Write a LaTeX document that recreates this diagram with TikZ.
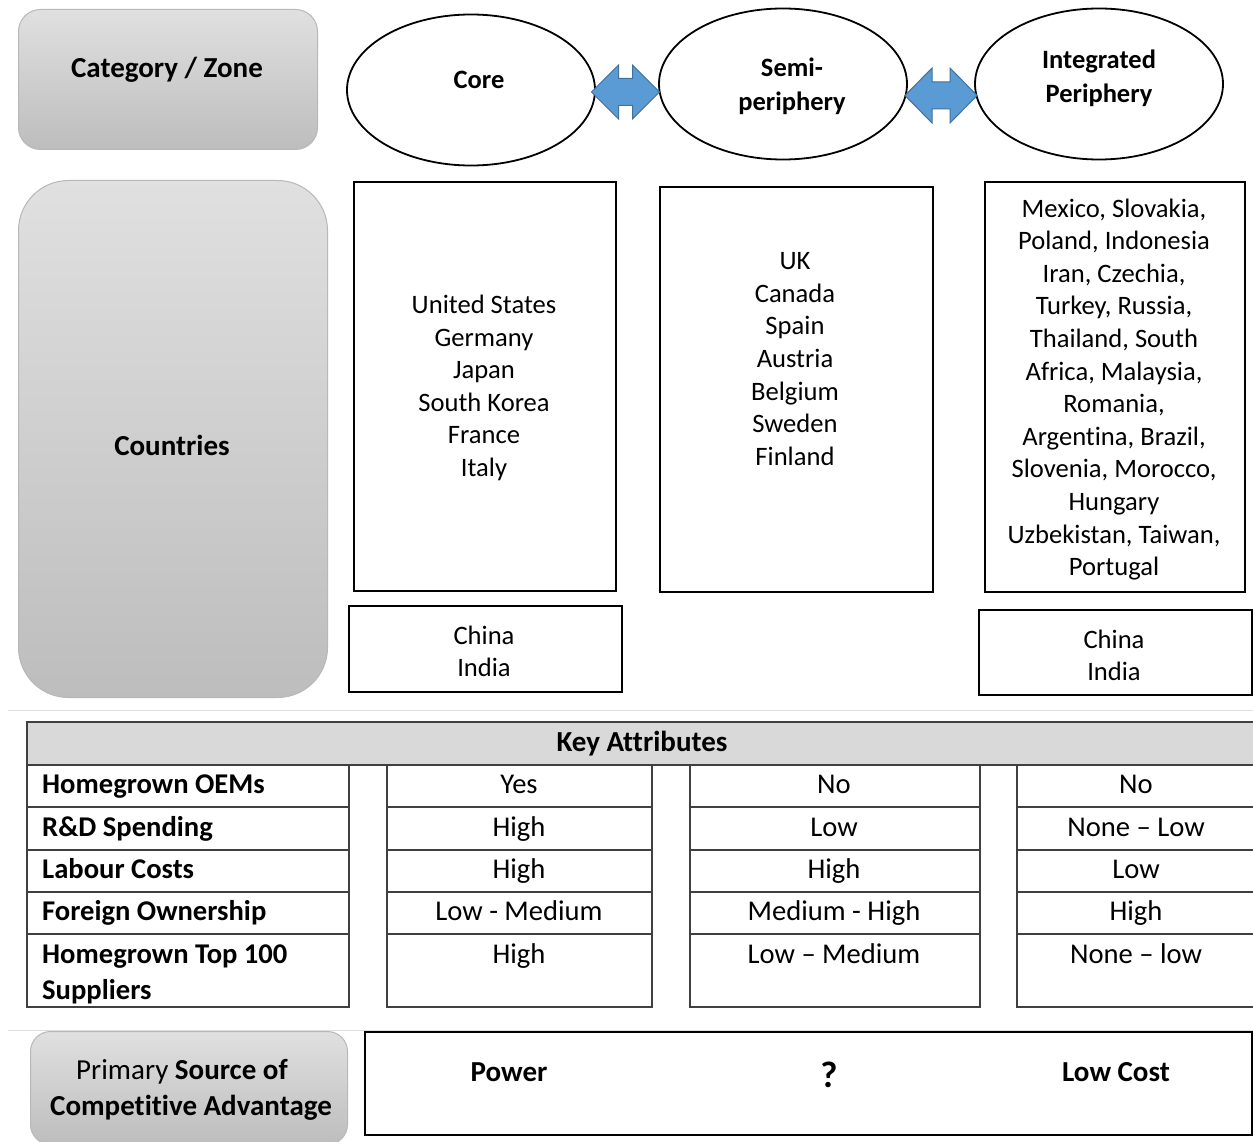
\documentclass[tikz,border=0pt]{standalone}
\usepackage{fontspec}
\setmainfont[Ligatures={NoCommon}]{Carlito}
\usetikzlibrary{shapes.geometric}
\definecolor{arrowblue}{HTML}{5B9BD5}
\definecolor{arrowedge}{HTML}{41719C}
\definecolor{tabline}{HTML}{404040}
\definecolor{hdrgray}{HTML}{D9D9D9}
\definecolor{sepgray}{HTML}{DDDDDD}
\definecolor{boxtop}{HTML}{E0E0E0}
\definecolor{boxbot}{HTML}{BDBDBD}
\definecolor{boxedge}{HTML}{B8B8B8}
\begin{document}
\begin{tikzpicture}[x=1pt,y=-1pt,
  graybox/.style={draw=boxedge, line width=1pt, top color=boxtop, bottom color=boxbot, inner sep=0, anchor=north west},
  zone/.style={ellipse, draw, line width=1.8pt, minimum width=248pt, minimum height=151pt, inner sep=0},
  zonetext/.style={font=\fontsize{26.5}{34}\selectfont\bfseries, align=center, inner sep=0},
  listbox/.style={draw, line width=2pt, inner sep=0, anchor=north west},
  listtext/.style={font=\fontsize{26.6}{32.6}\selectfont, align=center, inner sep=0},
  bigtext/.style={font=\fontsize{29}{36}\selectfont\bfseries, align=center, inner sep=0},
  tab/.style={draw=tabline, line width=1.3pt},
  rowlabel/.style={font=\fontsize{28.6}{36}\selectfont\bfseries, anchor=west, align=left, inner sep=0, text height=19pt, text depth=6pt},
  cell/.style={font=\fontsize{28.6}{36}\selectfont, inner sep=0, text height=19pt, text depth=6pt},
  blockarrow/.style={draw=arrowedge, fill=arrowblue, line width=1pt, line join=miter},
  sep/.style={draw=sepgray, line width=1pt}
]
\useasboundingbox (0,0) rectangle (1253,1142);
\fill[white] (0,0) rectangle (1253,1142);

% ---- left gray label boxes ----
\node[graybox, rounded corners=22pt, minimum width=299pt, minimum height=140pt] (catbox) at (18,9) {};
\node[bigtext] (cattext) at (167,70) {Category / Zone};
\node[graybox, rounded corners=50pt, minimum width=309pt, minimum height=517pt] (cntbox) at (18,180) {};
\node[bigtext] (cnttext) at (172,445) {Countries};

% ---- zones ----
\node[zone] (core) at (471,90) {};
\node[zonetext] at (479,79.5) {Core};
\node[zone] (semi) at (783,84) {};
\node[zonetext] at (792,86.5) {Semi-\\periphery};
\node[zone] (peri) at (1099,84) {};
\node[zonetext] at (1099,78) {Integrated\\Periphery};

% ---- block double arrows ----
\draw[blockarrow, shift={(625.5,92)}]
  (-34,0) -- (-7,-27) -- (-7,-13.5) -- (7,-13.5) -- (7,-27) -- (34,0)
  -- (7,27) -- (7,13.5) -- (-7,13.5) -- (-7,27) -- cycle;
\draw[blockarrow, shift={(941,95.5)}]
  (-36,0) -- (-9,-27.5) -- (-9,-13.5) -- (9,-13.5) -- (9,-27.5) -- (36,0)
  -- (9,27.5) -- (9,13.5) -- (-9,13.5) -- (-9,27.5) -- cycle;

% ---- country lists ----
\node[listbox, minimum width=262pt, minimum height=409pt] (corelist) at (353,181) {};
\node[listtext] at (484,388) {United States\\Germany\\Japan\\South Korea\\France\\Italy};
\node[listbox, minimum width=273pt, minimum height=405pt] (semilist) at (659,186) {};
\node[listtext] at (795,359) {UK\\Canada\\Spain\\Austria\\Belgium\\Sweden\\Finland};
\node[listbox, minimum width=260pt, minimum height=410pt] (perilist) at (984,181) {};
\node[listtext] at (1114,389.5) {Mexico, Slovakia,\\Poland, Indonesia\\Iran, Czechia,\\Turkey, Russia,\\Thailand, South\\Africa, Malaysia,\\Romania,\\Argentina, Brazil,\\Slovenia, Morocco,\\Hungary\\Uzbekistan, Taiwan,\\Portugal};

\node[listbox, minimum width=273pt, minimum height=86pt] (ci1) at (348,605) {};
\node[listtext] at (484,651.5) {China\\India};
\node[listbox, minimum width=273pt, minimum height=85pt] (ci2) at (978,609) {};
\node[listtext] at (1114,655.5) {China\\India};

% ---- separators ----
\draw[sep] (8,710.5) -- (1253,710.5);
\draw[sep] (8,1030) -- (1253,1030);

% ---- table ----
\draw[tab, fill=hdrgray] (27,722) rectangle (1262,765);
\node[bigtext] at (642,744) {Key Attributes};
\foreach \xa/\xb in {27/349, 387/652, 690/980, 1017/1262}{
  \draw[tab] (\xa,765) rectangle (\xb,1007);
  \foreach \yy in {807,850,892,934}{ \draw[tab] (\xa,\yy) -- (\xb,\yy); }
}
\node[rowlabel] at (42,787) {Homegrown OEMs};
\node[rowlabel] at (42,829.5) {R\&D Spending};
\node[rowlabel] at (42,872) {Labour Costs};
\node[rowlabel] at (42,914) {Foreign Ownership};
\node[font=\fontsize{28.6}{36}\selectfont\bfseries, anchor=west, align=left, inner sep=0] at (42,974) {Homegrown Top 100\\Suppliers};

\foreach \y/\a/\b/\c in {787/Yes/No/No, 829.5/High/Low/None – Low, 872/High/High/Low, 914/Low - Medium/Medium - High/High, 957/High/Low – Medium/None – low}{
  \node[cell] at (519,\y) {\a};
  \node[cell] at (834,\y) {\b};
  \node[cell] at (1136,\y) {\c};
}

% ---- bottom ----
\node[graybox, rounded corners=20pt, minimum width=317pt, minimum height=113pt] (advbox) at (30,1031) {};
\node[font=\fontsize{29}{36}\selectfont, align=center, inner sep=0] at (191,1090) {Primary \textbf{Source of}\hspace*{18pt}\\\textbf{Competitive Advantage}};
\node[listbox, minimum width=887pt, minimum height=103pt] (adv) at (364,1031) {};
\node[bigtext] at (509,1072) {Power};
\node[font=\fontsize{37}{40}\selectfont\bfseries, inner sep=0] at (829,1075) {?};
\node[bigtext] at (1116,1072) {Low Cost};
\end{tikzpicture}
\end{document}
